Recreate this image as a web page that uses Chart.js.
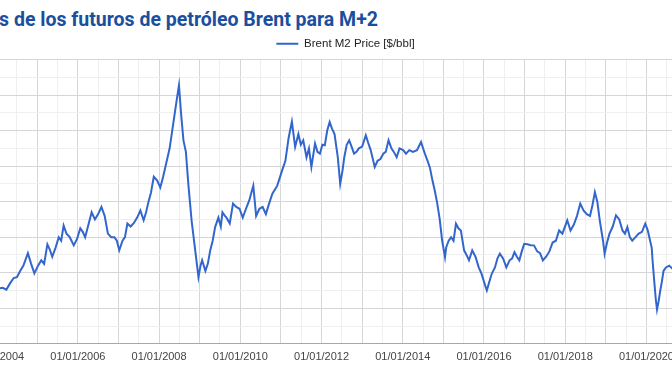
<!DOCTYPE html>
<html>
<head>
<meta charset="utf-8">
<script src="https://cdn.jsdelivr.net/npm/chart.js@4.4.1/dist/chart.umd.min.js"></script>
<style>
  html, body { margin: 0; padding: 0; width: 672px; height: 372px; overflow: hidden; background: #fff; }
  #title {
    position: absolute; right: 294px; top: 8px; margin: 0;
    white-space: nowrap; font: 700 19.5px Roboto, sans-serif; color: #1b4f9e;
  }
  #wrap { position: absolute; left: -51px; top: 0; width: 793px; height: 372px; }
</style>
</head>
<body>
<h2 id="title">Precios de los futuros de petróleo Brent para M+2</h2>
<div id="wrap"><canvas id="brentChart" width="793" height="372"></canvas></div>
<script>
// fecha (año decimal) y precio Brent M2 en $/bbl
const years = [
  2004.00, 2004.15, 2004.24, 2004.33, 2004.42, 2004.50, 2004.58, 2004.66, 2004.77, 2004.85, 2004.93,
  2005.02, 2005.10, 2005.17, 2005.25, 2005.31, 2005.37, 2005.45, 2005.53, 2005.59, 2005.65, 2005.72, 2005.80, 2005.90, 2005.98,
  2006.06, 2006.12, 2006.18, 2006.26, 2006.34, 2006.42, 2006.50, 2006.58, 2006.66, 2006.74, 2006.82, 2006.90, 2006.96,
  2007.02, 2007.10, 2007.16, 2007.22, 2007.30, 2007.38, 2007.46, 2007.54, 2007.62, 2007.68, 2007.74, 2007.80, 2007.87, 2007.95,
  2008.03, 2008.10, 2008.19, 2008.26, 2008.35, 2008.42, 2008.49, 2008.54, 2008.60, 2008.66, 2008.72, 2008.80, 2008.88, 2008.97,
  2009.02, 2009.06, 2009.14, 2009.20, 2009.26, 2009.32, 2009.38, 2009.46, 2009.52, 2009.56, 2009.62, 2009.66, 2009.74, 2009.82, 2009.90, 2009.98,
  2010.06, 2010.14, 2010.22, 2010.32, 2010.39, 2010.47, 2010.55, 2010.63, 2010.71, 2010.79, 2010.91,
  2011.03, 2011.11, 2011.19, 2011.27, 2011.35, 2011.43, 2011.49, 2011.55, 2011.63, 2011.69, 2011.75, 2011.84, 2011.90, 2011.96,
  2012.02, 2012.08, 2012.14, 2012.20, 2012.26, 2012.32, 2012.40, 2012.46, 2012.52, 2012.56, 2012.62, 2012.68, 2012.74, 2012.80, 2012.86, 2012.92,
  2013.00, 2013.09, 2013.15, 2013.21, 2013.31, 2013.38, 2013.45, 2013.52, 2013.58, 2013.65, 2013.72, 2013.78, 2013.85, 2013.92,
  2014.01, 2014.08, 2014.16, 2014.25, 2014.35, 2014.45, 2014.50, 2014.56, 2014.61, 2014.67, 2014.73, 2014.79, 2014.85, 2014.91, 2014.97,
  2015.04, 2015.07, 2015.13, 2015.19, 2015.25, 2015.31, 2015.37, 2015.43, 2015.51, 2015.57, 2015.63, 2015.71, 2015.79, 2015.87, 2015.93, 2015.99,
  2016.04, 2016.07, 2016.12, 2016.19, 2016.27, 2016.33, 2016.39, 2016.47, 2016.55, 2016.63, 2016.69, 2016.75, 2016.81, 2016.87, 2016.93, 2016.99,
  2017.07, 2017.15, 2017.23, 2017.31, 2017.38, 2017.45, 2017.53, 2017.61, 2017.69, 2017.77, 2017.85, 2017.93,
  2018.05, 2018.13, 2018.21, 2018.29, 2018.37, 2018.45, 2018.53, 2018.61, 2018.67, 2018.73, 2018.79, 2018.85, 2018.93, 2018.97,
  2019.03, 2019.09, 2019.17, 2019.25, 2019.33, 2019.41, 2019.47, 2019.53, 2019.59, 2019.65, 2019.73, 2019.81, 2019.89, 2019.97,
  2020.03, 2020.09, 2020.13, 2020.15, 2020.19, 2020.23, 2020.26, 2020.30, 2020.34, 2020.38, 2020.42, 2020.48, 2020.56, 2020.70
];
const brentM2 = [
  31, 31.5, 30.5, 34, 37, 37.5, 41, 44, 51, 45, 39.6,
  44, 47, 45, 56, 53, 49, 54, 60, 58, 66.6, 62, 60, 55.4, 59,
  65, 63, 60, 67, 74, 70, 73, 77, 72, 62, 60, 60, 58,
  52.6, 58, 60, 67.7, 66, 68, 71, 75, 69.5, 74, 80, 85, 94, 92,
  88, 94, 103, 110, 124, 135, 145.5, 130, 114.5, 108, 90, 69.5, 54.4, 37.5,
  44, 47, 41, 45, 52.6, 58, 65.7, 71, 66, 74, 72, 71, 67.7, 78.9, 77, 76,
  71, 76, 80.7, 89, 72, 76, 77, 73, 79, 84.5, 89,
  97.6, 103, 116, 125, 110.8, 118, 112, 114.5, 105, 110, 99.5, 112.7, 108, 107,
  112, 111.7, 120, 124.8, 121, 118, 105, 90, 98, 105, 112, 114.5, 111, 107, 108, 110,
  111, 117.4, 113, 109, 99.5, 103, 104, 107, 108, 114.5, 110, 108, 105, 110,
  109, 107, 109, 108, 109, 113.6, 110, 106, 103, 99, 92, 86, 78.9, 70, 58,
  48.8, 54.4, 58, 60, 58, 67.6, 65, 63.8, 52.6, 50, 47, 52.6, 49, 43, 40, 35.7,
  32, 30, 34, 39.4, 43, 48, 50.7, 48, 43, 47, 48, 51.6, 49, 47, 52, 56.3,
  56, 55.5, 55.4, 52, 51, 47, 49, 52, 57, 58, 63.8, 62,
  69.5, 63.8, 67, 72, 78.9, 75, 73, 72, 78, 85.4, 80, 69.5, 58, 50.7,
  57, 62, 66, 72.3, 70, 63.8, 62, 65.7, 60, 58, 60, 62, 63, 67.6,
  64, 58, 54, 47, 35.7, 25, 19.3, 24, 30, 35, 41, 43, 44, 41
];
const seriesLabel = 'Brent M2 Price [$/bbl]';
const xMin = 2003, xMax = 2022.18;
const yMin = 0, yMax = 160;

const isWhole = v => Math.abs(v - Math.round(v)) < 1e-6;

const chart = new Chart(document.getElementById('brentChart'), {
  type: 'line',
  data: {
    datasets: [{
      label: seriesLabel,
      data: years.map((y, i) => ({ x: y, y: brentM2[i] })),
      borderColor: '#3366cc',
      backgroundColor: '#3366cc',
      borderWidth: 2,
      pointRadius: 0,
      tension: 0
    }]
  },
  options: {
    responsive: false,
    animation: false,
    layout: { padding: { top: 28, bottom: 1, left: 0, right: 0 } },
    plugins: {
      tooltip: { enabled: false },
      legend: {
        position: 'top',
        labels: {
          usePointStyle: true,
          pointStyle: 'line',
          pointStyleWidth: 22,
          padding: 10,
          color: '#222',
          font: { family: '"Liberation Sans", Arial, sans-serif', size: 11.5 }
        }
      }
    },
    scales: {
      x: {
        type: 'linear',
        min: xMin,
        max: xMax,
        grid: {
          drawTicks: false,
          color: c => isWhole(c.tick.value) ? '#d6d6d6' : '#efefef'
        },
        border: { color: '#a8a8a8' },
        ticks: {
          stepSize: 0.5,
          autoSkip: false,
          maxRotation: 0,
          maxTicksLimit: 100,
          padding: 7,
          color: '#444',
          font: { family: '"Liberation Sans", Arial, sans-serif', size: 11 },
          callback: v => (isWhole(v) && Math.round(v) % 2 === 0) ? '01/01/' + Math.round(v) : ''
        }
      },
      y: {
        min: yMin,
        max: yMax,
        grid: {
          drawTicks: false,
          color: c => c.tick.value % 20 === 0 ? '#d6d6d6' : '#efefef'
        },
        border: { display: false },
        ticks: { display: false, stepSize: 10 }
      }
    }
  }
});
</script>
</body>
</html>
